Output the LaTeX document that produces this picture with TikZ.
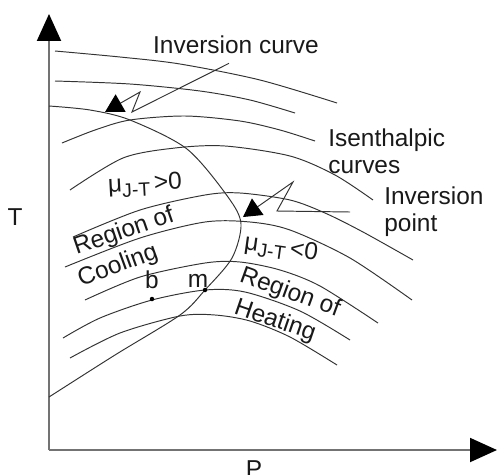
\documentclass[tikz,border=0pt]{standalone}
\usepackage{fontspec}
\setmainfont{Liberation Sans}
\usetikzlibrary{positioning,arrows.meta,calc}
\newcommand{\mujt}{μ\raisebox{-0.2em}{\fontsize{11}{11}\selectfont J-T}\,}

\begin{document}
\begin{tikzpicture}[
x=0.02cm,y=-0.02cm,
every node/.style={inner sep=0pt,font=\fontsize{13.9}{15.5}\selectfont,text=black!90},
axis/.style={draw=black!55,line width=1.1pt,-{Triangle[length=0.54cm,width=0.48cm,color=black]}},
isoline/.style={draw=black!80,line width=0.55pt},
pointer/.style={draw=black!80,line width=0.55pt,-{Triangle[length=0.36cm,width=0.4cm,color=black]}},
dot/.style={circle,fill=black,minimum size=0.09cm}]
\useasboundingbox (0,0) rectangle (497,474);
\coordinate (origin) at (49,450);
\coordinate (tend) at (49,14);
\coordinate (pend) at (497,450);
\draw[axis] (origin)--(tend);
\draw[axis] (origin)--(pend);
\node (taxis) at (15,217) {T};
\node (paxis) at (254,469) {P};

\draw[isoline] plot[smooth] coordinates {(55,51) (120,57) (180,64) (260,80) (337,103)};
\draw[isoline] plot[smooth] coordinates {(55,81) (130,84) (200,91) (250,100) (295,113)};
\draw[isoline] plot[smooth] coordinates {(62,143) (95,130) (130,120) (185,116) (240,121) (280,130) (315,141)};
\draw[isoline] plot[smooth] coordinates {(70,190) (123,158) (175,148) (225,146) (290,156) (335,175) (373,200)};
\draw[isoline] plot[smooth] coordinates {(73,237) (140,210) (205,195) (240,193) (290,200) (325,213) (363,232) (413,260)};
\draw[isoline] plot[smooth] coordinates {(65,267) (140,238) (205,222) (250,222) (290,230) (350,258) (412,300)};
\draw[isoline] plot[smooth] coordinates {(85,300) (140,277) (205,263) (240,262) (280,270) (320,286) (378,323)};
\draw[isoline] plot[smooth] coordinates {(63,338) (100,318) (152,300) (205,290) (245,292) (300,311) (350,340)};
\draw[isoline] plot[smooth] coordinates {(70,358) (120,333) (180,316) (215,315) (250,321) (290,337) (337,365)};
\draw[isoline] plot[smooth] coordinates {(49,106) (90,110) (130,120) (187,149) (228,197) (241,224) (232,258) (205,290) (180,315) (115,355) (49,397)};

\node (invcurve) at (236,45) {Inversion curve};
\node[anchor=west,align=left] (isenth) at (328,151) {Isenthalpic\\curves};
\node[anchor=west,align=left] (invpoint) at (384,212) {Inversion\\point};
\node[rotate=3] (cool) at (145,185) {\mujt>0};
\node[rotate=-8] (heat) at (281,249) {\mujt<0};
\node[rotate=19] (coolA) at (124,232) {Region of};
\node[rotate=20] (coolB) at (118,266) {Cooling};
\node[rotate=-20] (heatA) at (290,293) {Region of};
\node[rotate=-19] (heatB) at (275,321) {Heating};

\node[dot] (bpt) at (152,299) {};
\node[dot] (mpt) at (205,290) {};
\node[above=0.14cm of bpt] (blbl) {b};
\node (mlbl) at (198,281) {m};

\coordinate (k1) at (132,112);
\coordinate (k2) at (140,92);
\coordinate (tip1) at (105,112);
\coordinate (k3) at (277,211);
\coordinate (k4) at (293,182);
\coordinate (tip2) at (243,217);
\draw[pointer] ($(invcurve.south)+(-7,9)$)--(k1)--(k2)--(tip1);
\draw[pointer] ($(invpoint.west)+(-34,0)$)--(k3)--(k4)--(tip2);
\end{tikzpicture}
\end{document}
